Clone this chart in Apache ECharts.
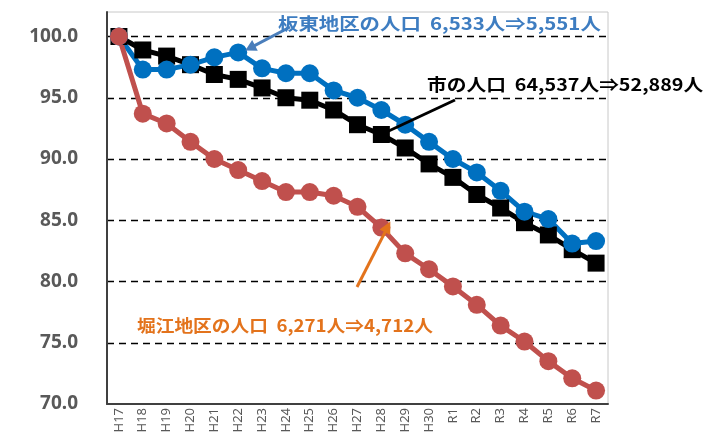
<!DOCTYPE html>
<html>
<head>
<meta charset="utf-8">
<script src="https://cdn.jsdelivr.net/npm/echarts@6/dist/echarts.min.js"></script>
<style>
  html, body { margin: 0; padding: 0; background: #fff; }
  #chart { width: 706px; height: 440px; }
</style>
</head>
<body>
<div id="chart"></div>
<script>
// Fiscal years (平成17 .. 令和7)
const years = ['H17','H18','H19','H20','H21','H22','H23','H24','H25','H26','H27',
               'H28','H29','H30','R1','R2','R3','R4','R5','R6','R7'];

// Population index (H17 = 100)
const cityIndex   = [100.0, 98.9, 98.4, 97.7, 96.9, 96.5, 95.8, 95.0, 94.8, 94.0, 92.8,
                     92.0, 90.9, 89.6, 88.5, 87.1, 86.0, 84.8, 83.8, 82.6, 81.5];
const bandoIndex  = [100.0, 97.3, 97.3, 97.7, 98.3, 98.7, 97.4, 97.0, 97.0, 95.6, 95.0,
                     94.0, 92.8, 91.4, 90.0, 88.9, 87.4, 85.7, 85.1, 83.1, 83.3];
const horieIndex  = [100.0, 93.7, 92.9, 91.4, 90.0, 89.1, 88.2, 87.3, 87.3, 87.0, 86.1,
                     84.4, 82.3, 81.0, 79.6, 78.1, 76.4, 75.1, 73.5, 72.1, 71.1];

// Callout texts
const bandoLabel = '板東地区の人口  6,533人⇒5,551人';
const cityLabel  = '市の人口  64,537人⇒52,889人';
const horieLabel = '堀江地区の人口  6,271人⇒4,712人';

const BLUE = '#0070C0', RED = '#C0504D', BLACK = '#000000';
const BLUE_TXT = '#3E7DC1', ORANGE = '#E3731C';
const CJK = '"Noto Sans CJK JP", "Noto Sans", sans-serif';

const chart = echarts.init(document.getElementById('chart'));

function lineSeries(name, data, color, symbol) {
  return {
    name: name,
    type: 'line',
    data: data,
    symbol: symbol,
    symbolSize: symbol === 'rect' ? 17 : 18,
    lineStyle: { color: color, width: 5 },
    itemStyle: { color: color },
    emphasis: { disabled: true },
    animation: false
  };
}

chart.setOption({
  backgroundColor: '#ffffff',
  grid: {
    left: 107, right: 98, top: 12, bottom: 36,
    show: true, borderColor: '#c8c8c8', borderWidth: 1
  },
  xAxis: {
    type: 'category',
    data: years,
    boundaryGap: true,
    axisLine: { lineStyle: { color: '#404040', width: 2 } },
    axisTick: { show: false },
    axisLabel: {
      rotate: 90, color: '#595959', fontSize: 13,
      fontFamily: '"Noto Sans", sans-serif', margin: 4, interval: 0
    },
    splitLine: { show: false }
  },
  yAxis: {
    type: 'value',
    min: 70, max: 102, interval: 5,
    axisLine: { show: true, lineStyle: { color: '#404040', width: 2 } },
    axisTick: { show: false },
    axisLabel: {
      color: '#595959', fontSize: 19, fontWeight: 'bold',
      fontFamily: '"Noto Sans", sans-serif', margin: 29,
      formatter: v => (v % 5 === 0 ? v.toFixed(1) : '')
    },
    splitLine: {
      show: true, showMinLine: false, showMaxLine: false,
      lineStyle: { color: '#000', type: [7, 5], width: 1.4 }
    }
  },
  series: [
    lineSeries('市', cityIndex, BLACK, 'rect'),
    lineSeries('板東地区', bandoIndex, BLUE, 'circle'),
    lineSeries('堀江地区', horieIndex, RED, 'circle')
  ]
});

// Callouts: leader lines point at the relevant data points
function pt(idx, val) { return chart.convertToPixel({ gridIndex: 0 }, [idx, val]); }

function arrowHead(tip, from, color, len, half) {
  const dx = tip[0] - from[0], dy = tip[1] - from[1];
  const d = Math.hypot(dx, dy), ux = dx / d, uy = dy / d;
  const bx = tip[0] - ux * len, by = tip[1] - uy * len;
  return {
    type: 'polygon', z: 20,
    shape: { points: [tip, [bx - uy * half, by + ux * half], [bx + uy * half, by - ux * half]] },
    style: { fill: color }
  };
}

const pB = pt(5, bandoIndex[5]);
const bFrom = [290, 27], bTip = [pB[0] + 7, pB[1] - 2];
const pC = pt(11, cityIndex[11]);
const cFrom = [455, 100], cTo = [pC[0] + 2, pC[1] - 1];
const pH = pt(11, horieIndex[11]);
const hFrom = [357, 287], hTip = [pH[0] + 9, pH[1] - 6];

chart.setOption({
  graphic: [
    { type: 'line', z: 20, shape: { x1: bFrom[0], y1: bFrom[1], x2: bTip[0] + 6, y2: bTip[1] - 3 },
      style: { stroke: '#4A7EBB', lineWidth: 3 } },
    arrowHead(bTip, bFrom, '#4A7EBB', 11, 6),
    { type: 'line', z: 20, shape: { x1: cFrom[0], y1: cFrom[1], x2: cTo[0], y2: cTo[1] },
      style: { stroke: '#000', lineWidth: 3 } },
    { type: 'line', z: 20, shape: { x1: hFrom[0], y1: hFrom[1], x2: hTip[0] - 3, y2: hTip[1] + 6 },
      style: { stroke: ORANGE, lineWidth: 3 } },
    arrowHead(hTip, hFrom, ORANGE, 12, 6),
    { type: 'text', z: 30, x: 278, y: 24, scaleX: 1.2,
      style: { text: bandoLabel, fill: BLUE_TXT, font: 'bold 17px ' + CJK, textVerticalAlign: 'middle' } },
    { type: 'text', z: 30, x: 427, y: 85, scaleX: 1.16,
      style: { text: cityLabel, fill: '#000', font: 'bold 17px ' + CJK, textVerticalAlign: 'middle' } },
    { type: 'text', z: 30, x: 137, y: 326, scaleX: 1.1,
      style: { text: horieLabel, fill: ORANGE, font: 'bold 17px ' + CJK, textVerticalAlign: 'middle' } }
  ]
});
</script>
</body>
</html>
